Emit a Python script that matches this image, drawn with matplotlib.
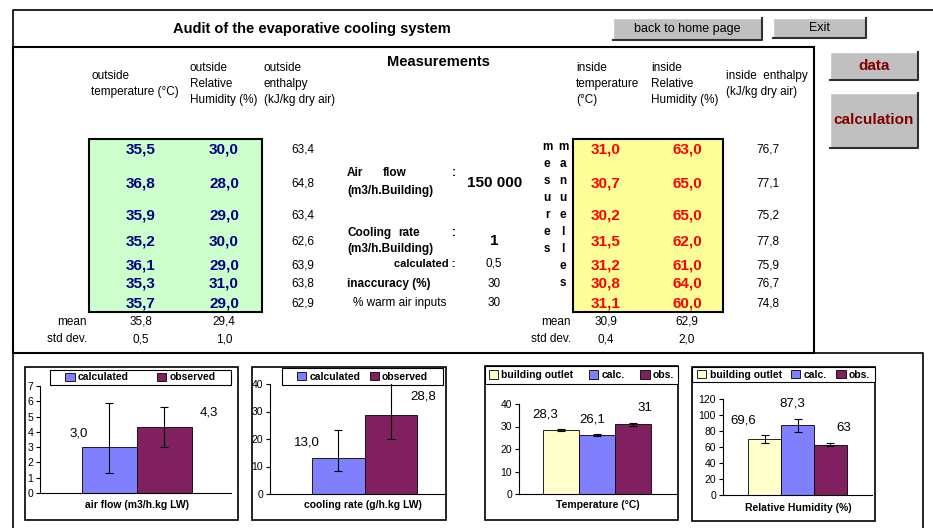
import numpy as np
import matplotlib.pyplot as plt
from matplotlib.patches import Rectangle, Patch

plt.rcParams['font.family'] = ['Liberation Sans', 'DejaVu Sans']

# measurements table
out_temp = [35.5, 36.8, 35.9, 35.2, 36.1, 35.3, 35.7]
out_rh = [30.0, 28.0, 29.0, 30.0, 29.0, 31.0, 29.0]
out_enth = [63.4, 64.8, 63.4, 62.6, 63.9, 63.8, 62.9]
in_temp = [31.0, 30.7, 30.2, 31.5, 31.2, 30.8, 31.1]
in_rh = [63.0, 65.0, 65.0, 62.0, 61.0, 64.0, 60.0]
in_enth = [76.7, 77.1, 75.2, 77.8, 75.9, 76.7, 74.8]

air_flow = "150 000"
cooling_rate = "1"
calc_rate = "0,5"
inaccuracy = "30"
warm_inputs = "30"

# bar charts
af_names = ["calculated", "observed"]
af_vals = [3.0, 4.3]
af_err = [[1.7, 1.3], [2.9, 1.3]]
af_text = ["3,0", "4,3"]

cr_names = ["calculated", "observed"]
cr_vals = [13.0, 28.8]
cr_err = [[4.5, 8.8], [10.4, 12.0]]
cr_text = ["13,0", "28,8"]

t_names = ["building outlet", "calc.", "obs."]
t_vals = [28.3, 26.1, 31.0]
t_err = [0.5, 0.5, 0.6]
t_text = ["28,3", "26,1", "31"]

rh_names = ["building outlet", "calc.", "obs."]
rh_vals = [69.6, 87.3, 63.0]
rh_err = [5.0, 8.0, 2.0]
rh_text = ["69,6", "87,3", "63"]

W, H = 933, 528
fig = plt.figure(figsize=(9.33, 5.28), dpi=100)
bg = fig.add_axes([0, 0, 1, 1])
bg.set_xlim(0, W)
bg.set_ylim(H, 0)
bg.axis("off")


def fmt(v):
    return f"{v:.1f}".replace(".", ",")


def txt(x, y, s, **kw):
    kw.setdefault("va", "center")
    kw.setdefault("fontsize", 8.5)
    bg.text(x, y, s, **kw)


def button(x0, y0, x1, y1, s, **kw):
    bg.add_patch(Rectangle((x0, y0), x1 - x0, y1 - y0, fc="#c0c0c0", ec="none"))
    bg.plot([x0, x0, x1], [y1, y0, y0], color="white", lw=1)
    bg.plot([x0, x1, x1], [y1, y1, y0], color="#303030", lw=1.5)
    txt((x0 + x1) / 2, (y0 + y1) / 2, s, ha="center", **kw)


narrow = ["Liberation Sans Narrow", "Liberation Sans"]

# frames
bg.plot([13, 13, 933], [47, 10, 10], color="black", lw=1.2)
bg.add_patch(Rectangle((13, 47), 801, 306, fill=False, ec="black", lw=1.5))
bg.plot([13, 13], [353, 528], color="black", lw=1.2)
bg.plot([814, 923, 923], [353, 353, 528], color="black", lw=1.2)

txt(312, 29, "Audit of the evaporative cooling system", ha="center",
    fontsize=10.5, fontweight="bold", family=narrow)
button(613, 18, 762, 40, "back to home page", fontsize=9, family=narrow)
button(773, 18, 866, 38, "Exit", fontsize=9, family=narrow)
button(830, 52, 918, 80, "data", fontsize=11, fontweight="bold", color="#800000")
button(830, 93, 918, 148, "calculation", fontsize=11, fontweight="bold", color="#800000")

txt(438, 62, "Measurements", ha="center", fontsize=10.5, fontweight="bold")

# column headers
txt(91, 84, "outside\ntemperature (°C)", linespacing=1.45)
txt(190, 84, "outside\nRelative\nHumidity (%)", linespacing=1.45)
txt(264, 84, "outside\nenthalpy\n(kJ/kg dry air)", linespacing=1.45)
txt(576, 84, "inside\ntemperature\n(°C)", linespacing=1.45)
txt(651, 84, "inside\nRelative\nHumidity (%)", linespacing=1.45)
txt(726, 84, "inside  enthalpy\n(kJ/kg dry air)", linespacing=1.45)

# coloured input blocks
bg.add_patch(Rectangle((89, 139), 173, 173, fc="#ccffcc", ec="black", lw=1.5))
bg.add_patch(Rectangle((573, 139), 150, 173, fc="#ffff99", ec="black", lw=1.5))

rows_y = [150, 184, 216, 242, 265, 283, 304]
for y, a, b, c in zip(rows_y, out_temp, out_rh, out_enth):
    txt(141, y, fmt(a), ha="center", fontsize=11, fontweight="bold", color="#000080")
    txt(224, y, fmt(b), ha="center", fontsize=11, fontweight="bold", color="#000080")
    txt(303, y, fmt(c), ha="center")
for y, a, b, c in zip(rows_y, in_temp, in_rh, in_enth):
    txt(606, y, fmt(a), ha="center", fontsize=11, fontweight="bold", color="red")
    txt(687, y, fmt(b), ha="center", fontsize=11, fontweight="bold", color="red")
    txt(768, y, fmt(c), ha="center")

# mean / std dev
txt(87, 322, "mean", ha="right")
txt(87, 339, "std dev.", ha="right")
txt(141, 322, fmt(np.mean(out_temp)), ha="center")
txt(224, 322, fmt(np.mean(out_rh)), ha="center")
txt(141, 339, fmt(np.std(out_temp, ddof=1)), ha="center")
txt(224, 339, fmt(np.std(out_rh, ddof=1)), ha="center")
txt(571, 322, "mean", ha="right")
txt(571, 339, "std dev.", ha="right")
txt(606, 322, fmt(np.mean(in_temp)), ha="center")
txt(687, 322, fmt(np.mean(in_rh)), ha="center")
txt(606, 339, fmt(np.std(in_temp, ddof=1)), ha="center")
txt(687, 339, fmt(np.std(in_rh, ddof=1)), ha="center")

# middle block
txt(347, 173, "Air", fontweight="bold")
txt(383, 173, "flow", fontweight="bold")
txt(452, 173, ":", fontweight="bold")
txt(347, 191, "(m3/h.Building)", fontweight="bold")
txt(495, 183, air_flow, ha="center", fontsize=11, fontweight="bold")
txt(347, 233, "Cooling", fontweight="bold")
txt(398, 233, "rate", fontweight="bold")
txt(452, 233, ":", fontweight="bold")
txt(347, 249, "(m3/h.Building)", fontweight="bold")
txt(494, 241, cooling_rate, ha="center", fontsize=11, fontweight="bold")
txt(455, 264, "calculated :", ha="right", fontsize=8, fontweight="bold")
txt(494, 264, calc_rate, ha="center")
txt(347, 284, "inaccuracy (%)", fontweight="bold")
txt(494, 284, inaccuracy, ha="center")
txt(353, 303, "% warm air inputs")
txt(494, 303, warm_inputs, ha="center")

for i, ch in enumerate("mesures"):
    txt(547, 147 + 17 * i, ch, ha="center", fontweight="bold")
for i, ch in enumerate("manuelles"):
    txt(563, 147 + 17 * i, ch, ha="center", fontweight="bold")


def px_axes(x0, y0, x1, y1):
    return fig.add_axes([x0 / W, 1 - y1 / H, (x1 - x0) / W, (y1 - y0) / H])


def bar_chart(box, axrect, xlim, ymax, ystep, names, vals, err, labels,
              offsets, colors, title, title_xy, legbox, colspace):
    bg.add_patch(Rectangle((box[0], box[1]), box[2] - box[0], box[3] - box[1],
                           fc="white", ec="black", lw=1.2))
    ax = px_axes(*axrect)
    ax.patch.set_alpha(0)
    x = np.arange(len(vals))
    ax.bar(x, vals, width=1.0, color=colors, edgecolor="black", lw=0.6, zorder=2)
    ax.errorbar(x, vals, yerr=err, fmt="none", ecolor="black", elinewidth=0.8,
                capsize=3, capthick=0.8, zorder=3)
    for xi, v, s, (dx, dy) in zip(x, vals, labels, offsets):
        ax.annotate(s, (xi, v), xytext=(dx * 0.72, dy * 0.72),
                    textcoords="offset points", ha="center", va="center",
                    fontsize=9.5)
    ax.set_xlim(*xlim)
    ax.set_ylim(0, ymax)
    ax.set_yticks(np.arange(0, ymax + 0.1, ystep))
    ax.set_xticks([])
    for s in ["top", "right"]:
        ax.spines[s].set_visible(False)
    ax.spines["left"].set_linewidth(0.8)
    ax.spines["bottom"].set_linewidth(0.8)
    ax.tick_params(axis="y", labelsize=7.5, length=3, width=0.8, pad=2)
    txt(title_xy[0], title_xy[1], title, ha="center", fontsize=7.5, fontweight="bold")

    # legend: own frame, entries centred inside it
    x0, y0, x1, y1 = legbox
    frame = Rectangle((x0, y0), x1 - x0, y1 - y0, fc="white", ec="black",
                      lw=0.8, zorder=5)
    bg.add_patch(frame)
    bg.set_zorder(0)
    handles = [Patch(fc=c, ec="black", lw=0.6) for c in colors]
    leg = fig.legend(handles, names, ncol=len(names), loc="center",
                     bbox_to_anchor=((x0 + x1) / 2 / W, 1 - (y0 + y1) / 2 / H),
                     frameon=False, handlelength=0.9, handleheight=0.9,
                     handletextpad=0.3, borderpad=0, borderaxespad=0,
                     columnspacing=colspace, prop=dict(weight="bold", size=7.5))
    leg.set_zorder(10)
    return ax


blue, maroon, yellow = "#8080ff", "#802060", "#ffffcc"

bar_chart((25, 367, 238, 520), (40, 386, 231, 493), (-1.26, 2.21), 7, 1,
          af_names, af_vals, af_err, af_text, [(-31, 14), (44, 15)],
          [blue, maroon], "air flow (m3/h.kg LW)", (137, 505),
          (50, 370, 231, 385), 2.7)
bar_chart((252, 367, 446, 520), (270, 384, 446, 494), (-1.3, 2.05), 40, 10,
          cr_names, cr_vals, cr_err, cr_text, [(-31, 16), (32, 18)],
          [blue, maroon], "cooling rate (g/h.kg LW)", (363, 505),
          (282, 368, 443, 385), 0.9)
bar_chart((485, 366, 678, 520), (519, 404, 677, 494), (-1.17, 3.22), 40, 10,
          t_names, t_vals, t_err, t_text, [(-16, 16), (-5, 16), (12, 16)],
          [yellow, blue, maroon], "Temperature (°C)", (598, 505),
          (485, 366, 678, 384), 1.5)
bar_chart((692, 367, 875, 521), (723, 399, 872, 495), (-1.26, 3.26), 120, 20,
          rh_names, rh_vals, rh_err, rh_text, [(-21, 19), (-5, 22), (13, 17)],
          [yellow, blue, maroon], "Relative Humidity (%)", (798, 508),
          (692, 367, 875, 382), 0.9)

fig.savefig("out.png", dpi=100)
